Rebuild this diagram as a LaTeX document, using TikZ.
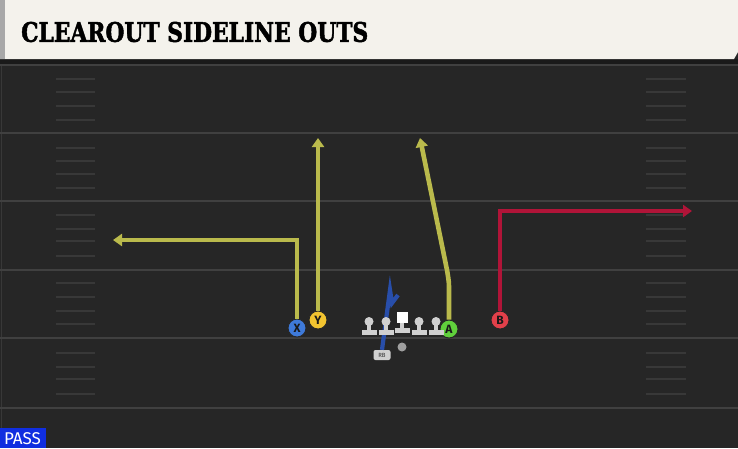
\documentclass[tikz,border=0pt]{standalone}
\usepackage{fontspec}
\setsansfont{Fira Sans}
\newfontfamily\titlefont{DejaVu Serif}[BoldFeatures={FakeBold=2}]
\usetikzlibrary{arrows.meta}

\definecolor{fieldbg}{RGB}{38,38,38}
\definecolor{fieldband}{RGB}{26,26,26}
\definecolor{yardgray}{RGB}{64,64,64}
\definecolor{hashgray}{RGB}{56,56,56}
\definecolor{titlebg}{RGB}{244,242,236}
\definecolor{stripegray}{RGB}{168,168,168}
\definecolor{routeyellow}{RGB}{186,186,76}
\definecolor{routered}{RGB}{176,20,56}
\definecolor{routeblue}{RGB}{40,78,170}
\definecolor{playerblue}{RGB}{62,122,218}
\definecolor{playeryellow}{RGB}{242,196,48}
\definecolor{playergreen}{RGB}{96,208,60}
\definecolor{playerred}{RGB}{226,64,74}
\definecolor{linegray}{RGB}{208,208,208}
\definecolor{passblue}{RGB}{16,46,224}

\tikzset{
  yardline/.style={yardgray, line width=2pt},
  hashmark/.style={hashgray, line width=1.4pt},
  route/.style={line width=4.6pt, -{Triangle[length=9pt,width=12pt]}},
  player/.style={circle, draw=black!85, line width=0.9pt, minimum size=18pt, inner sep=0pt,
    font=\sffamily\bfseries\fontsize{12}{12}\selectfont, text=black!90},
}

\begin{document}
\begin{tikzpicture}[x=1pt, y=-1pt]
    \useasboundingbox (0,0) rectangle (738,448);
    % field
    \fill[fieldbg] (0,0) rectangle (738,448);
    \fill[fieldband] (0,59) rectangle (738,66);
    \draw[hashgray, line width=1pt] (1.5,66) -- (1.5,448);
    \foreach \y in {65,133,201,270,338,408}
        \draw[yardline] (0,\y) -- (738,\y);
    \foreach \y in {79,92,106,120,148,161,174,188,215,229,241,256,283,297,311,324,353,367,379,394} {
        \draw[hashmark] (56,\y) -- (95,\y);
        \draw[hashmark] (646,\y) -- (686,\y);
    }

    % title bar
    \fill[titlebg] (0,0) -- (738,0) -- (738,52) -- (734,59) -- (0,59) -- cycle;
    \fill[stripegray] (0,0) rectangle (5,59);
    \node[anchor=west, inner sep=0pt] (title) at (21,32)
        {\resizebox{347pt}{20pt}{\titlefont\bfseries CLEAROUT SIDELINE OUTS}};

    % players
    \node[player, fill=playerblue] (X) at (297,328) {X};
    \node[player, fill=playeryellow] (Y) at (318,320) {Y};
    \node[player, fill=playergreen] (A) at (449,329) {A};
    \node[player, fill=playerred] (B) at (500,320) {B};
    \node[fill=linegray, rounded corners=2pt, minimum width=17pt, minimum height=10pt, inner sep=0pt,
        font=\sffamily\fontsize{6}{6}\selectfont, text=black!80] (RB) at (382,355) {RB};
    \node[circle, fill=gray!75, minimum size=9pt, inner sep=0pt] (QB) at (402,347) {};

    % route ends
    \coordinate (Xend) at (113,240);
    \coordinate (Yend) at (318,138);
    \coordinate (Aend) at (420,138);
    \coordinate (Bend) at (692,211);

    % routes
    \draw[route, routeyellow] (X.north) |- (Xend);
    \draw[route, routeyellow] (Y.north) -- (Yend);
    \draw[route, routeyellow] (A.north) -- (449,292) .. controls (449,282) .. (447,270) -- (Aend);
    \draw[route, routered] (B.north) |- (Bend);
    \draw[routeblue, line width=4.2pt, line join=miter] (RB.north) -- (390,290) -- (392,303) -- (398,295);

    % offensive line
    \foreach \x in {369,386,419,436} {
        \fill[linegray] (\x-7.5,330) rectangle (\x+7.5,335);
        \fill[linegray] (\x-2,323) rectangle (\x+2,331);
        \fill[linegray] (\x,321.5) circle (4.5);
    }
    \fill[linegray] (402-7.5,328) rectangle (402+7.5,333);
    \fill[linegray] (402-2,321) rectangle (402+2,329);
    \fill[white] (402-5.5,312) rectangle (402+5.5,323);

    % play type
    \fill[passblue] (0,428) rectangle (46,448);
    \node[text=white, font=\sffamily\fontsize{17}{17}\selectfont, inner sep=0pt] (pass) at (22.5,439) {PASS};
\end{tikzpicture}
\end{document}
